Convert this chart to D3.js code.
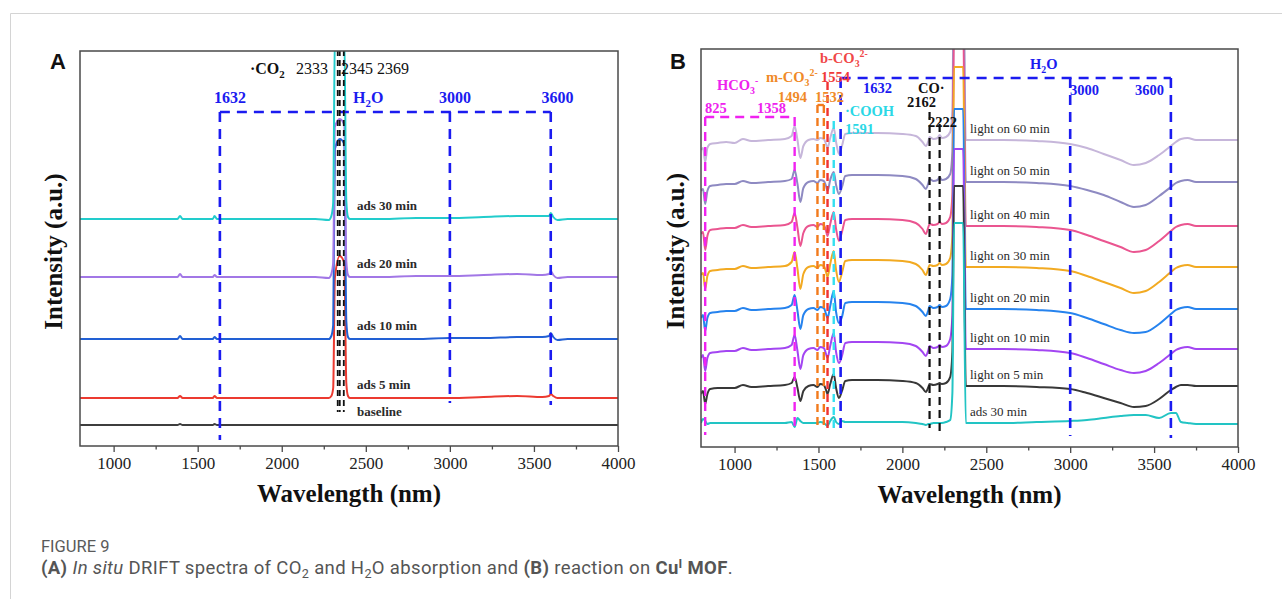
<!DOCTYPE html>
<html>
<head>
<meta charset="utf-8">
<script src="https://cdn.jsdelivr.net/npm/d3@7"></script>
<style>
  body { margin: 0; background: #fff; }
  svg { display: block; }
</style>
</head>
<body>
<svg id="fig" width="1282" height="599"></svg>
<script>
// ---------- data: panel A (adsorption) ----------
const waveA = [800, 900, 1000, 1100, 1200, 1300, 1380, 1395, 1410, 1500,
  1590, 1600, 1615, 1700, 2000, 2200, 2280, 2295, 2306, 2316,
  2345, 2372, 2384, 2394, 2405, 2600, 2800, 3000, 3200, 3400,
  3550, 3590, 3600, 3615, 3640, 3700, 3800, 4000];
const baselineA = [0, 0, 0, 0, 0, 0, 0, 1, 0, 0,  0, 1, 0, 0, 0, 0, 0, 0, 0, 0,
  0, 0, 0, 0, 0, 0, 0, 0, 0, 0,  0, 0, 0, 0, 0, 0, 0, 0];
const ads5A = [0, 0, 0, 0, 0, 0, 0, 2, 0, 0,  0, 2, 0, 0, 0, 0, 0, 2, 10, 120,
  142, 135, 15, 2, 0, 0, 0, 0, 1, 2,  1, 2, 4, 2, 0, 0, 0, 0];
const ads10A = [0, 0, 0, 0, 0, 0, 0, 3, 0, 0,  0, 2, 0, 0, 0, 0, 0, 3, 14, 190,
  200, 195, 18, 2, 0, 0, 0, 1, 1, 2,  2, 3, 6, 2, -1, 0, 0, 0];
const ads20A = [0, 0, 0, 0, 0, 0, 0, 3, 0, 0,  0, 2, 0, 0, 0, 0, -1, 3, 14, 150,
  158, 152, 16, 2, 0, 0, 1, 1, 2, 3,  2, 3, 6, 2, -1, 0, 0, 0];
const ads30A = [0, 0, 0, 0, 0, 0, 0, 3, 0, 0,  0, 3, 0, 0, 0, 0, -1, 3, 16, 178,
  180, 178, 18, 2, 0, 0, 1, 1, 2, 3,  3, 3, 6, 2, -1, 0, 0, 0];
const namesA = ['baseline', 'ads 5 min', 'ads 10 min', 'ads 20 min', 'ads 30 min'];
const offsetsA = [21, 48, 107, 169, 227];
const colorsA = ['#3d3d3d', '#ec3a30', '#2260d4', '#a277e6', '#22cccc'];

// ---------- data: panel B (reaction) ----------
const waveB = [800, 812, 825, 838, 855, 900, 950, 1000, 1050, 1100,
  1200, 1300, 1340, 1358, 1375, 1392, 1410, 1440, 1470, 1494,
  1510, 1532, 1545, 1554, 1570, 1591, 1605, 1622, 1640, 1660,
  1700, 1850, 2000, 2080, 2120, 2140, 2155, 2162, 2185, 2210,
  2222, 2235, 2260, 2285, 2298, 2308, 2330, 2362, 2378, 2400,
  2600, 2800, 3000, 3100, 3200, 3300, 3380, 3450, 3530, 3600,
  3630, 3660, 3700, 3750, 3850, 4000];
const ads30B = [0, 4, 2, -1, 0, 0, 0, 0, 0, 0,
  0, 0, 1, -4, 5, 2, 0, 0, 0, 0,
  1, 0, -2, -3, 2, 6, 1, -1, 2, 1,
  1, 1, 1, 0, -1, -2, -1, -1, 0, 0,
  0, 0, 1, 3, 30, 200, 200, 200, 0, 0,
  0, 1, 2, 3, 5, 7, 8, 8, 5, 10,
  10, 1, 0, -1, -1, -1];
const light5B = [-8, -5, -18, -8, -3, -2, -2, -2, 1, -1,
  0, 1, 3, 9, -2, -15, -5, 0, 1, -1,
  2, 1, -4, -8, 2, 12, -2, -12, -5, 5,
  6, 6, 5, 3, -2, -6, -1, 2, 1, 2,
  3, 2, 3, 9, 34, 200, 200, 200, 0, 0,
  0, -1, -3, -7, -12, -17, -21, -20, -13, -4,
  -1, 1, 1, 0, 0, 0];
const light10B = [-9, -6, -22, -9, -4, -3, -2, -2, 1, -1,
  0, 1, 4, 14, -2, -20, -6, 0, 1, -1,
  2, 1, -5, -9, 3, 16, -3, -14, -7, 6,
  7, 7, 6, 3, -3, -7, -1, 3, 1, 2,
  4, 2, 3, 10, 34, 200, 200, 200, 0, 0,
  0, -1, -4, -9, -15, -21, -24, -22, -14, -5,
  -1, 1, 2, 0, 0, 0];
const light20B = [-9, -6, -22, -9, -4, -3, -2, -2, 1, -1,
  0, 1, 4, 14, -2, -20, -6, 0, 1, -1,
  2, 1, -5, -9, 3, 18, -3, -14, -8, 6,
  7, 7, 6, 3, -3, -7, -1, 3, 1, 2,
  4, 2, 3, 10, 34, 200, 200, 200, 0, 0,
  0, -1, -4, -9, -15, -21, -24, -23, -15, -5,
  -1, 1, 2, 0, 0, 0];
const light30B = [-8, -6, -22, -9, -4, -3, -2, -2, 1, -1,
  0, 1, 5, 15, -2, -22, -7, 0, 1, -1,
  2, 1, -5, -10, 3, 16, -3, -15, -6, 6,
  7, 7, 6, 3, -3, -8, -1, 2, 1, 2,
  4, 2, 3, 9, 32, 200, 200, 200, 0, 0,
  0, -1, -4, -9, -15, -21, -26, -24, -15, -5,
  -1, 1, 2, 0, 0, 0];
const light40B = [-8, -6, -24, -10, -4, -3, -2, -2, 1, -1,
  0, 1, 4, 13, -2, -20, -7, 0, 1, -1,
  2, 1, -5, -10, 2, 14, -3, -15, -6, 6,
  7, 7, 6, 3, -3, -8, -1, 2, 1, 2,
  4, 2, 3, 9, 32, 200, 200, 200, 0, 0,
  0, -1, -4, -9, -15, -21, -26, -24, -15, -5,
  -1, 1, 2, 0, 0, 0];
const light50B = [-9, -7, -22, -9, -4, -3, -2, -2, 1, -1,
  0, 1, 3, 12, -2, -20, -6, 0, 1, -1,
  2, 1, -4, -9, 2, 10, -3, -12, -5, 6,
  7, 7, 6, 3, -3, -7, -1, 3, 1, 2,
  5, 2, 3, 8, 30, 200, 200, 200, 0, 0,
  0, -1, -4, -8, -13, -20, -25, -23, -14, -5,
  -1, 1, 2, 0, 0, 0];
const light60B = [-10, -8, -22, -8, -4, -3, -2, -3, 1, -1,
  0, 1, 4, 14, 0, -18, -6, 0, 1, 0,
  2, 1, -4, -8, 2, 12, -2, -14, -6, 6,
  7, 7, 6, 4, -2, -6, -1, 3, 1, 2,
  5, 2, 3, 8, 30, 200, 200, 200, 0, 0,
  0, -1, -4, -8, -14, -20, -25, -23, -15, -6,
  -2, 1, 2, 0, 0, 0];
const namesB = ['ads 30 min', 'light on 5 min', 'light on 10 min', 'light on 20 min',
  'light on 30 min', 'light on 40 min', 'light on 50 min', 'light on 60 min'];
const offsetsB = [24, 61, 98, 138, 180, 221, 265, 307];
const colorsB = ['#22c4c4', '#383838', '#a346f2', '#2683ee', '#f2aa22', '#ea5590', '#8e8ac2', '#c6b6da'];

// ---------- axis ticks ----------
const majorTicks = [1000, 1500, 2000, 2500, 3000, 3500, 4000];
const minorTicks = [1250, 1750, 2250, 2750, 3250, 3750];

// ---------- annotation lines: [wavenumber, top, bottom] in intensity units ----------
const blueBoxA = { left: 1632, right: 3600, top: 334 };
const blueLinesA = [[1632, 334, 6], [3000, 334, 43], [3600, 334, 41]];
const co2LinesA = [[2333, 396, 34], [2345, 396, 34], [2369, 396, 34]];

const magentaBoxB = { left: 825, right: 1358, top: 330 };
const magentaLinesB = [[825, 330, 12], [1358, 330, 17]];
const orangeBoxB = { left: 1494, right: 1532, top: 342 };
const orangeLinesB = [[1494, 342, 19], [1532, 342, 19]];
const redLinesB = [[1554, 365, 14]];
const cyanLinesB = [[1591, 326, 19]];
const blueBoxB = { left: 1632, right: 3600, top: 369 };
const blueLinesB = [[1632, 369, 15], [3000, 369, 11], [3600, 369, 9]];
const blackLinesB = [[2162, 335, 19], [2222, 323, 13]];

const SERIF = '"Liberation Serif","Times New Roman",serif';
const SANS = '"Liberation Sans",Arial,sans-serif';

const svg = d3.select('#fig');

// page frame lines
svg.append('line').attr('x1', 10.5).attr('x2', 1282).attr('y1', 13.5).attr('y2', 13.5)
  .attr('stroke', '#d4d4d4').attr('stroke-width', 1);
svg.append('line').attr('x1', 10.5).attr('x2', 10.5).attr('y1', 13.5).attr('y2', 599)
  .attr('stroke', '#d4d4d4').attr('stroke-width', 1);

// text with sub/superscripts
function rich(g, x, y, parts, attrs) {
  const t = g.append('text').attr('x', x).attr('y', y);
  Object.entries(attrs || {}).forEach(([k, v]) => t.attr(k, v));
  let shift = 0;
  parts.forEach(p => {
    const s = t.append('tspan').text(p.t);
    const target = p.sub ? 4 : p.sup ? -6 : 0;
    if (target !== shift) { s.attr('dy', target - shift); shift = target; }
    if (p.sub || p.sup) s.attr('font-size', '0.68em');
    if (p.fw) s.attr('font-weight', p.fw);
    if (p.fill) s.attr('fill', p.fill);
    if (p.fs) s.attr('font-style', p.fs);
  });
  return t;
}

function drawPanel(cfg) {
  const { x, y, id } = cfg;
  const g = svg.append('g');
  const [x0, x1] = x.range();
  const [yb, yt] = y.range();

  g.append('clipPath').attr('id', id).append('rect')
    .attr('x', x0).attr('y', yt).attr('width', x1 - x0).attr('height', yb - yt);

  // traces
  const line = d3.line().curve(d3.curveMonotoneX);
  const tg = g.append('g').attr('clip-path', `url(#${id})`);
  cfg.series.forEach((s, i) => {
    const pts = cfg.wave.map((w, k) => [x(w), y(cfg.offsets[i] + s[k])]);
    tg.append('path').attr('d', line(pts))
      .attr('fill', 'none').attr('stroke', cfg.colors[i])
      .attr('stroke-width', 2).attr('stroke-linejoin', 'round');
  });

  // dashed annotation lines
  const ag = g.append('g').attr('clip-path', `url(#${id})`);
  cfg.dashed.forEach(d => {
    d.lines.forEach(([w, top, bot]) => {
      ag.append('line').attr('x1', x(w)).attr('x2', x(w))
        .attr('y1', y(top)).attr('y2', y(bot))
        .attr('stroke', d.color).attr('stroke-width', d.width)
        .attr('stroke-dasharray', d.dash);
    });
    if (d.box) {
      ag.append('line').attr('x1', x(d.box.left)).attr('x2', x(d.box.right))
        .attr('y1', y(d.box.top)).attr('y2', y(d.box.top))
        .attr('stroke', d.color).attr('stroke-width', d.width)
        .attr('stroke-dasharray', d.dash);
    }
  });

  // frame
  g.append('rect').attr('x', x0).attr('y', yt).attr('width', x1 - x0).attr('height', yb - yt)
    .attr('fill', 'none').attr('stroke', '#4a4a4a').attr('stroke-width', 1.5);

  // x axis
  const ax = g.append('g').attr('transform', `translate(0,${yb})`)
    .call(d3.axisBottom(x).tickValues(majorTicks).tickFormat(d3.format('d'))
      .tickSize(6).tickSizeOuter(0).tickPadding(5));
  ax.select('.domain').remove();
  ax.selectAll('line').attr('stroke', '#4a4a4a').attr('stroke-width', 1.3);
  ax.selectAll('text').attr('font-family', SERIF).attr('font-size', 17).attr('fill', '#222');
  const axm = g.append('g').attr('transform', `translate(0,${yb})`)
    .call(d3.axisBottom(x).tickValues(minorTicks).tickFormat('').tickSize(3.5).tickSizeOuter(0));
  axm.select('.domain').remove();
  axm.selectAll('line').attr('stroke', '#4a4a4a').attr('stroke-width', 1.3);

  g.append('text').attr('x', (x0 + x1) / 2).attr('y', yb + 56)
    .attr('text-anchor', 'middle').attr('font-family', SERIF).attr('font-weight', 'bold')
    .attr('font-size', 25).attr('fill', '#111').text('Wavelength (nm)');
  g.append('text').attr('transform', `translate(${cfg.ylabX},${(yb + yt) / 2 + 3}) rotate(-90)`)
    .attr('text-anchor', 'middle').attr('font-family', SERIF).attr('font-weight', 'bold')
    .attr('font-size', 25).attr('fill', '#111').text('Intensity (a.u.)');

  // panel letter
  g.append('text').attr('x', cfg.letterX).attr('y', 69)
    .attr('font-family', SANS).attr('font-weight', 'bold').attr('font-size', 22)
    .attr('fill', '#111').text(cfg.letter);

  // trace labels
  cfg.names.forEach((n, i) => {
    g.append('text').attr('x', x(cfg.labelWave)).attr('y', y(cfg.offsets[i]) - cfg.labelGap)
      .attr('font-family', SERIF).attr('font-size', 13).attr('font-weight', cfg.labelWeight)
      .attr('fill', '#2a2a2a').text(n);
  });
  return g;
}

// ---------- panel A ----------
const xA = d3.scaleLinear().domain([800, 4000]).range([80, 618]);
const yA = d3.scaleLinear().domain([0, 395]).range([446, 51]);
const gA = drawPanel({
  id: 'clipA', x: xA, y: yA, wave: waveA,
  series: [baselineA, ads5A, ads10A, ads20A, ads30A],
  offsets: offsetsA, colors: colorsA, names: namesA,
  labelWave: 2448, labelGap: 9, labelWeight: 'bold',
  ylabX: 62, letter: 'A', letterX: 50,
  dashed: [
    { lines: blueLinesA, box: blueBoxA, color: '#1b1bf0', width: 2.6, dash: '10,7' },
    { lines: co2LinesA, color: '#111', width: 1.8, dash: '6,4' }
  ]
});
const bA = { 'font-family': SERIF, 'font-size': 16, 'font-weight': 'bold', fill: '#1b1bf0' };
rich(gA, xA(1692), yA(343), [{ t: '1632' }], Object.assign({}, bA, { 'text-anchor': 'middle' }));
rich(gA, xA(2424), yA(343), [{ t: 'H' }, { t: '2', sub: true }, { t: 'O' }], bA);
rich(gA, xA(3030), yA(343), [{ t: '3000' }], Object.assign({}, bA, { 'text-anchor': 'middle' }));
rich(gA, xA(3640), yA(343), [{ t: '3600' }], Object.assign({}, bA, { 'text-anchor': 'middle' }));
const kA = { 'font-family': SERIF, 'font-size': 16, fill: '#111' };
rich(gA, xA(1811), yA(372), [{ t: '·CO', fw: 'bold' }, { t: '2', sub: true, fw: 'bold' }], kA);
rich(gA, xA(2085), yA(372), [{ t: '2333' }], kA);
rich(gA, xA(2352), yA(372), [{ t: '2345 2369' }], kA);

// ---------- panel B ----------
const xB = d3.scaleLinear().domain([800, 4000]).range([701, 1238]);
const yB = d3.scaleLinear().domain([0, 398]).range([447, 49]);
const gB = drawPanel({
  id: 'clipB', x: xB, y: yB, wave: waveB,
  series: [ads30B, light5B, light10B, light20B, light30B, light40B, light50B, light60B].reverse(),
  offsets: offsetsB.slice().reverse(), colors: colorsB.slice().reverse(), names: namesB.slice().reverse(),
  labelWave: 2403, labelGap: 7, labelWeight: 'normal',
  ylabX: 684, letter: 'B', letterX: 670,
  dashed: [
    { lines: magentaLinesB, box: magentaBoxB, color: '#f022f0', width: 2.4, dash: '9,6' },
    { lines: orangeLinesB, box: orangeBoxB, color: '#f27a1c', width: 2.4, dash: '8,5' },
    { lines: redLinesB, color: '#f03232', width: 2.4, dash: '8,5' },
    { lines: cyanLinesB, color: '#33e0f0', width: 2.4, dash: '8,5' },
    { lines: blueLinesB, box: blueBoxB, color: '#1b1bf0', width: 2.6, dash: '10,7' },
    { lines: blackLinesB, color: '#111', width: 2.2, dash: '8,5' }
  ]
});
const bB = { 'font-family': SERIF, 'font-size': 14.5, 'font-weight': 'bold' };
const withFill = c => Object.assign({}, bB, { fill: c });
rich(gB, xB(1509), yB(384), [{ t: 'b-CO' }, { t: '3', sub: true }, { t: '2-', sup: true }], withFill('#f04848'));
rich(gB, xB(1187), yB(365), [{ t: 'm-CO' }, { t: '3', sub: true }, { t: '2-', sup: true }], withFill('#f08a28'));
rich(gB, xB(1515), yB(365), [{ t: '1554' }], withFill('#f03a3a'));
rich(gB, xB(895), yB(357), [{ t: 'HCO' }, { t: '3', sub: true }, { t: '-', sup: true }], withFill('#ee22ee'));
rich(gB, xB(1765), yB(354), [{ t: '1632' }], withFill('#1b1bf0'));
rich(gB, xB(2093), yB(354), [{ t: 'CO·' }], withFill('#111'));
rich(gB, xB(1259), yB(345), [{ t: '1494' }], withFill('#f08a28'));
rich(gB, xB(1479), yB(345), [{ t: '1532' }], withFill('#f08a28'));
rich(gB, xB(2028), yB(340), [{ t: '2162' }], withFill('#111'));
rich(gB, xB(824), yB(334), [{ t: '825' }], withFill('#ee22ee'));
rich(gB, xB(1134), yB(334), [{ t: '1358' }], withFill('#ee22ee'));
rich(gB, xB(1658), yB(331), [{ t: '·COOH' }], withFill('#2ad8e6'));
rich(gB, xB(2153), yB(320), [{ t: '2222' }], withFill('#111'));
rich(gB, xB(1658), yB(313), [{ t: '1591' }], withFill('#2ad8e6'));
rich(gB, xB(2761), yB(378), [{ t: 'H' }, { t: '2', sub: true }, { t: 'O' }], withFill('#1b1bf0'));
rich(gB, xB(2999), yB(352), [{ t: '3000' }], withFill('#1b1bf0'));
rich(gB, xB(3386), yB(352), [{ t: '3600' }], withFill('#1b1bf0'));

// ---------- caption ----------
const CAP = '"Roboto","Open Sans",sans-serif';
svg.append('text').attr('x', 41).attr('y', 552)
  .attr('font-family', CAP).attr('font-size', 16.5).attr('fill', '#5a5a5a').text('FIGURE 9');
rich(svg, 41, 574, [
  { t: '(A)', fw: 'bold' }, { t: ' ' }, { t: 'In situ', fs: 'italic' },
  { t: ' DRIFT spectra of CO' }, { t: '2', sub: true }, { t: ' and H' }, { t: '2', sub: true },
  { t: 'O absorption and ' }, { t: '(B)', fw: 'bold' }, { t: ' reaction on ' },
  { t: 'Cu', fw: 'bold' }, { t: 'I', sup: true, fw: 'bold' }, { t: ' MOF', fw: 'bold' }, { t: '.' }
], { 'font-family': CAP, 'font-size': 18.5, 'letter-spacing': 0.35, fill: '#555' });
</script>
</body>
</html>
